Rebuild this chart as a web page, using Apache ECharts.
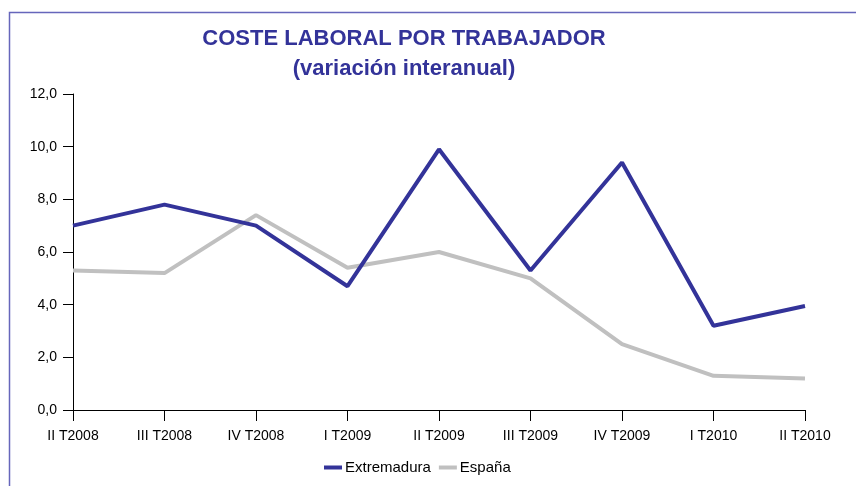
<!DOCTYPE html>
<html><head><meta charset="utf-8">
<script src="https://cdn.jsdelivr.net/npm/echarts@6/dist/echarts.min.js"></script>
<style>html,body{margin:0;padding:0;background:#fff}#c{width:856px;height:486px}</style>
</head><body><div id="c"></div>
<script>
var categories = ['II T2008','III T2008','IV T2008','I T2009','II T2009','III T2009','IV T2009','I T2010','II T2010'];
var extremadura = [7.0, 7.8, 7.0, 4.7, 9.9, 5.3, 9.4, 3.2, 3.95];
var espana = [5.3, 5.2, 7.4, 5.4, 6.0, 5.0, 2.5, 1.3, 1.2];
var yTicks = [0, 2, 4, 6, 8, 10, 12];

var chart = echarts.init(document.getElementById('c'));
chart.setOption({
  animation: false,
  backgroundColor: '#fff',
  graphic: [{type:'rect', shape:{x:9.5,y:12.5,width:900,height:600}, style:{fill:'none', stroke:'#6666bb', lineWidth:1.5}, z:-1}],
  title: {
    text: 'COSTE LABORAL POR TRABAJADOR\n(variación interanual)',
    left: 399, top: 19, textAlign: 'center',
    textStyle: {fontFamily:'Liberation Sans', fontWeight:'bold', fontSize:22, color:'#333399', lineHeight:30}
  },
  legend: {
    data: ['Extremadura','España'],
    left: 319, top: 455,
    icon: 'rect', itemWidth: 18, itemHeight: 4, itemGap: 8,
    textStyle: {fontFamily:'Liberation Sans', fontSize:15, color:'#000', padding:[0,0,0,-2]}
  },
  grid: {left:73, right:51, top:94, bottom:76},
  xAxis: {
    type:'category', data: categories, boundaryGap:false,
    axisLine:{lineStyle:{color:'#000', width:1}},
    axisTick:{inside:false, length:11, lineStyle:{color:'#000'}, alignWithLabel:true},
    axisLabel:{fontFamily:'Liberation Sans', fontSize:14, color:'#000', margin:19, interval:0}
  },
  yAxis: {
    type:'value', min:0, max:12, interval:2,
    axisLine:{show:true, lineStyle:{color:'#000', width:1}},
    axisTick:{show:true, length:10, lineStyle:{color:'#000'}},
    splitLine:{show:false},
    axisLabel:{fontFamily:'Liberation Sans', fontSize:14, color:'#000', margin:16,
      formatter:function(v){return v.toFixed(1).replace('.',',');}}
  },
  series: [
    {name:'Extremadura', type:'line', data: extremadura, symbol:'none', lineStyle:{color:'#333399', width:4}, itemStyle:{color:'#333399'}},
    {name:'España', type:'line', data: espana, symbol:'none', lineStyle:{color:'#c0c0c0', width:4}, itemStyle:{color:'#c0c0c0'}, z:1}
  ]
});
</script></body></html>
